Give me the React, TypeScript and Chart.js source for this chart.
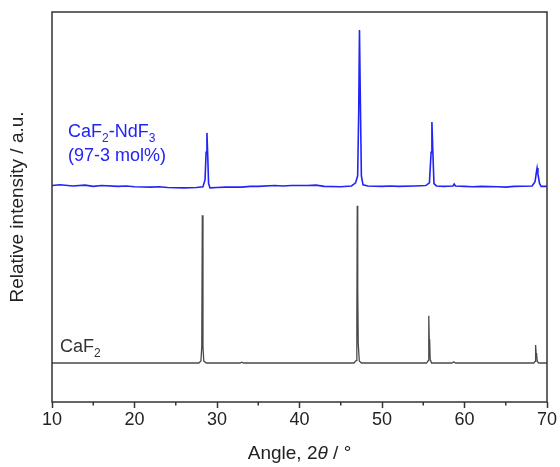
import React, { useEffect, useRef } from "react";
import { Chart, registerables } from "chart.js";

Chart.register(...registerables);

const xTicks = [10, 20, 30, 40, 50, 60, 70];
const xMinorTicks = [15, 25, 35, 45, 55, 65];

const dopedAngles = [
  10, 11, 12.5, 14, 15, 16, 18, 19, 20, 22, 23, 24, 26, 27.5, 28.3, 28.55, 28.68, 28.78, 28.88, 28.98, 29.15,
  30, 31, 33, 34, 35, 37, 38, 39, 41, 42, 43, 45, 46.3, 46.8, 47.05, 47.18, 47.27, 47.36, 47.5, 47.7,
  48.3, 50, 51, 52, 54, 55.3, 55.75, 55.95, 56.05, 56.15, 56.3, 56.6, 57.5, 58.6, 58.75, 58.9,
  60, 61, 62, 64, 65, 66, 68.2, 68.55, 68.72, 68.8, 68.9, 69.1, 69.3, 70,
];
const dopedIntensity = [
  55.5, 55.7, 55.4, 55.6, 55.3, 55.5, 55.3, 55.4, 55.2, 55.1, 55.2, 55.0, 54.9, 55.0, 55.2, 57, 64, 69, 63, 56, 54.9,
  55.0, 55.1, 55.1, 55.3, 55.3, 55.5, 55.4, 55.5, 55.5, 55.6, 55.3, 55.2, 55.4, 56.2, 58, 75, 95.4, 80, 58, 55.7,
  55.4, 55.3, 55.4, 55.3, 55.4, 55.5, 56.2, 64, 71.8, 65, 56, 55.4, 55.3, 55.4, 55.9, 55.4,
  55.3, 55.2, 55.3, 55.2, 55.1, 55.3, 55.4, 56.5, 59, 60, 58.5, 56, 55.3, 55.3,
];

const pureAngles = [
  10, 27.8, 28.05, 28.15, 28.22, 28.3, 28.4, 28.7, 32.8, 33, 33.2, 46.6, 46.85, 46.95, 47.0, 47.04, 47.08, 47.12,
  47.25, 47.5, 55.4, 55.6, 55.67, 55.73, 55.78, 55.84, 56.0, 58.5, 58.7, 58.9, 68.4, 68.55, 68.62, 68.68, 68.75,
  68.82, 69.0, 70,
];
const pureIntensity = [
  10, 10, 10.5, 14, 47.9, 14, 10.5, 10, 10, 10.2, 10, 10, 10.6, 20, 50.3, 29.5, 29, 15,
  10.5, 10, 10, 10.6, 22.1, 16, 15.5, 11, 10, 10, 10.3, 10, 10, 10.4, 14.6, 12.5, 12,
  10.4, 10, 10,
];

const FONT = '"Liberation Sans", Arial, sans-serif';
const BLUE = "#2323f5";
const GRAY = "#4a4a4a";

const decorPlugin = {
  id: "decor",
  afterDraw(chart: any) {
    const { ctx, chartArea: a, scales } = chart;
    const x = scales.x;
    ctx.save();
    // frame
    ctx.strokeStyle = "#333";
    ctx.lineWidth = 1.5;
    ctx.strokeRect(a.left, a.top, a.right - a.left, a.bottom - a.top);
    // minor ticks
    xMinorTicks.forEach((v) => {
      const px = x.getPixelForValue(v);
      ctx.beginPath();
      ctx.moveTo(px, a.bottom);
      ctx.lineTo(px, a.bottom + 3.5);
      ctx.stroke();
    });
    // mixed-style text runs
    const drawRuns = (parts: [string, string, number][], sx: number, sy: number, color: string, center = false) => {
      ctx.fillStyle = color;
      ctx.textBaseline = "alphabetic";
      ctx.textAlign = "left";
      let total = 0;
      parts.forEach(([t, f]) => {
        ctx.font = f;
        total += ctx.measureText(t).width;
      });
      let cx = center ? sx - total / 2 : sx;
      parts.forEach(([t, f, dy]) => {
        ctx.font = f;
        ctx.fillText(t, cx, sy + dy);
        cx += ctx.measureText(t).width;
      });
    };
    const N = `18px ${FONT}`;
    const S = `12px ${FONT}`;
    drawRuns([["CaF", N, 0], ["2", S, 5], ["-NdF", N, 0], ["3", S, 5]], 68, 137, BLUE);
    drawRuns([["(97-3 mol%)", N, 0]], 68, 161, BLUE);
    drawRuns([["CaF", N, 0], ["2", S, 5]], 60, 352, "#333");
    const T = `19px ${FONT}`;
    const TI = `italic 19px ${FONT}`;
    drawRuns(
      [["Angle, 2", T, 0], ["θ", TI, 0], [" / °", T, 0]],
      (a.left + a.right) / 2,
      459,
      "#222",
      true
    );
    ctx.restore();
  },
};

export default function App() {
  const ref = useRef<HTMLCanvasElement>(null);
  useEffect(() => {
    document.body.style.margin = "0";
    const chart = new Chart(ref.current!, {
      type: "line",
      data: {
        datasets: [
          {
            label: "CaF2-NdF3",
            data: dopedAngles.map((a, i) => ({ x: a, y: dopedIntensity[i] })),
            borderColor: BLUE,
            borderWidth: 1.6,
            pointRadius: 0,
            tension: 0,
          },
          {
            label: "CaF2",
            data: pureAngles.map((a, i) => ({ x: a, y: pureIntensity[i] })),
            borderColor: GRAY,
            borderWidth: 1.3,
            pointRadius: 0,
            tension: 0,
          },
        ],
      },
      options: {
        responsive: false,
        animation: false,
        layout: { padding: { top: 12, right: 13, left: 0, bottom: 0 } },
        plugins: { legend: { display: false }, tooltip: { enabled: false } },
        scales: {
          x: {
            type: "linear",
            min: 10,
            max: 70,
            afterFit: (s: any) => {
              s.height = 65;
            },
            afterBuildTicks: (s: any) => {
              s.ticks = xTicks.map((v) => ({ value: v }));
            },
            border: { display: false },
            grid: {
              display: true,
              drawOnChartArea: false,
              drawTicks: true,
              tickLength: 6,
              tickColor: "#333",
              tickWidth: 1.5,
            },
            ticks: { font: { family: FONT, size: 18 }, color: "#222", padding: 1, maxRotation: 0 },
            title: { display: false, text: "Angle, 2θ / °" },
          },
          y: {
            min: 0,
            max: 100,
            afterFit: (s: any) => {
              s.width = 52;
            },
            border: { display: false },
            grid: { display: false },
            ticks: { display: false },
            title: {
              display: true,
              text: "Relative intensity / a.u.",
              font: { family: FONT, size: 19 },
              color: "#222",
              padding: { top: 6, bottom: 0 },
            },
          },
        },
      },
      plugins: [decorPlugin],
    });
    return () => chart.destroy();
  }, []);
  return <canvas ref={ref} width={560} height={467} />;
}
